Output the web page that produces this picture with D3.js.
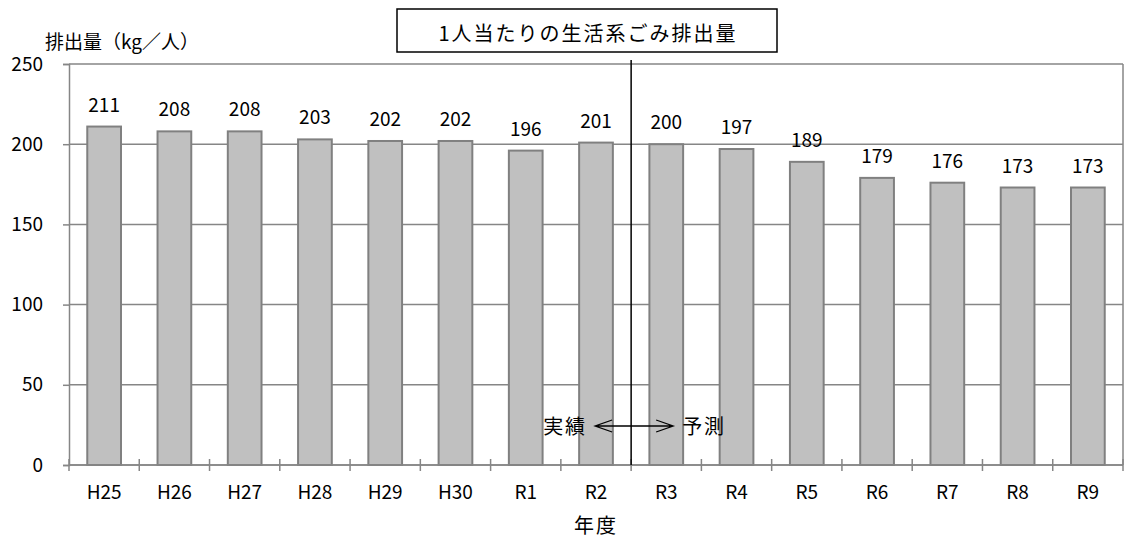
<!DOCTYPE html>
<html>
<head>
<meta charset="utf-8">
<script src="https://cdn.jsdelivr.net/npm/d3@7"></script>
<style>
  body { margin: 0; background: #fff; }
  svg text { font-family: "Noto Sans CJK JP", "DejaVu Sans", sans-serif; fill: #000; }
</style>
</head>
<body>
<svg id="chart" width="1125" height="538"></svg>
<script>
(function(){
    'use strict';

    var years = ['H25','H26','H27','H28','H29','H30','R1','R2','R3','R4','R5','R6','R7','R8','R9'];
    var perPerson = [211, 208, 208, 203, 202, 202, 196, 201, 200, 197, 189, 179, 176, 173, 173];
    var yTicks = [0, 50, 100, 150, 200, 250];
    var splitAfter = 'R2';

    var margin = {top: 64, left: 69, right: 2, bottom: 73};
    var width = 1125, height = 538;
    var svg = d3.select('#chart');

    var x = d3.scaleBand().domain(years)
        .range([margin.left, width - margin.right]).paddingInner(0.52).paddingOuter(0.26);
    var xBand = d3.scaleBand().domain(years).range([margin.left, width - margin.right]);
    var y = d3.scaleLinear().domain([0, 250]).range([height - margin.bottom, margin.top]);

    var grid = '#868686';

    // gridlines
    svg.append('g').selectAll('line').data(yTicks).enter().append('line')
        .attr('x1', margin.left).attr('x2', width - margin.right)
        .attr('y1', function(d) { return y(d); }).attr('y2', function(d) { return y(d); })
        .attr('stroke', grid).attr('stroke-width', 1.5);

    // right border
    svg.append('line')
        .attr('x1', width - margin.right).attr('x2', width - margin.right)
        .attr('y1', y(250)).attr('y2', y(0))
        .attr('stroke', grid).attr('stroke-width', 1.5);

    // y axis
    var yAxis = svg.append('g').attr('transform', 'translate(' + margin.left + ',0)')
        .call(d3.axisLeft(y).tickValues(yTicks).tickSize(6).tickPadding(20));
    yAxis.select('.domain').attr('stroke', grid).attr('stroke-width', 1.5);
    yAxis.selectAll('.tick line').attr('stroke', grid).attr('stroke-width', 1.5);
    yAxis.selectAll('text').style('font-size', '19px');

    // bars
    svg.append('g').selectAll('rect').data(perPerson).enter().append('rect')
        .attr('x', function(d, i) { return x(years[i]); })
        .attr('width', x.bandwidth())
        .attr('y', function(d) { return y(d); })
        .attr('height', function(d) { return y(0) - y(d); })
        .attr('fill', '#c0c0c0').attr('stroke', '#808080').attr('stroke-width', 2);

    // value labels
    svg.append('g').selectAll('text').data(perPerson).enter().append('text')
        .attr('x', function(d, i) { return x(years[i]) + x.bandwidth() / 2; })
        .attr('y', function(d) { return y(d) - 15; })
        .attr('text-anchor', 'middle').style('font-size', '19px')
        .text(function(d) { return d; });

    // x axis with ticks between categories
    var xAxis = svg.append('g').attr('transform', 'translate(0,' + y(0) + ')');
    xAxis.append('line').attr('x1', margin.left).attr('x2', width - margin.right)
        .attr('stroke', grid).attr('stroke-width', 1.5);
    var bounds = years.map(function(d) { return xBand(d); }).concat([width - margin.right]);
    xAxis.selectAll('line.tk').data(bounds).enter().append('line').attr('class', 'tk')
        .attr('x1', function(d) { return d; }).attr('x2', function(d) { return d; })
        .attr('y1', -6).attr('y2', 6).attr('stroke', grid).attr('stroke-width', 1.5);
    xAxis.selectAll('text').data(years).enter().append('text')
        .attr('x', function(d) { return xBand(d) + xBand.bandwidth() / 2; })
        .attr('y', 34).attr('text-anchor', 'middle').style('font-size', '19px')
        .text(function(d) { return d; });

    // divider
    var splitX = xBand(splitAfter) + xBand.bandwidth();
    svg.append('line').attr('x1', splitX).attr('x2', splitX)
        .attr('y1', 60).attr('y2', y(0))
        .attr('stroke', '#000').attr('stroke-width', 1.5);

    // arrow annotation
    var ay = 426;
    svg.append('text').attr('x', splitX - 44).attr('y', ay + 8)
        .attr('text-anchor', 'end').style('font-size', '20px').style('letter-spacing', '2px').text('実績');
    svg.append('text').attr('x', splitX + 51).attr('y', ay + 8)
        .attr('text-anchor', 'start').style('font-size', '20px').style('letter-spacing', '2px').text('予測');
    svg.append('path')
        .attr('d', 'M' + (splitX - 36) + ',' + ay + 'H' + (splitX + 42)
            + 'M' + (splitX - 19) + ',' + (ay - 6) + 'L' + (splitX - 36) + ',' + ay + 'L' + (splitX - 19) + ',' + (ay + 6)
            + 'M' + (splitX + 25) + ',' + (ay - 6) + 'L' + (splitX + 42) + ',' + ay + 'L' + (splitX + 25) + ',' + (ay + 6))
        .attr('fill', 'none').attr('stroke', '#000').attr('stroke-width', 1.3);

    // title box
    svg.append('rect').attr('x', 397).attr('y', 9).attr('width', 380).attr('height', 43)
        .attr('fill', '#fff').attr('stroke', '#000').attr('stroke-width', 1.5);
    svg.append('text').attr('x', 588).attr('y', 41).attr('text-anchor', 'middle')
        .style('font-size', '20px').style('letter-spacing', '2px').text('1人当たりの生活系ごみ排出量');

    // axis titles
    svg.append('text').attr('x', 45).attr('y', 49).style('font-size', '19px').text('排出量（kg／人）');
    svg.append('text').attr('x', (margin.left + width - margin.right) / 2).attr('y', 533)
        .attr('text-anchor', 'middle').style('font-size', '20px').style('letter-spacing', '2px').text('年度');
})();
</script>
</body>
</html>
